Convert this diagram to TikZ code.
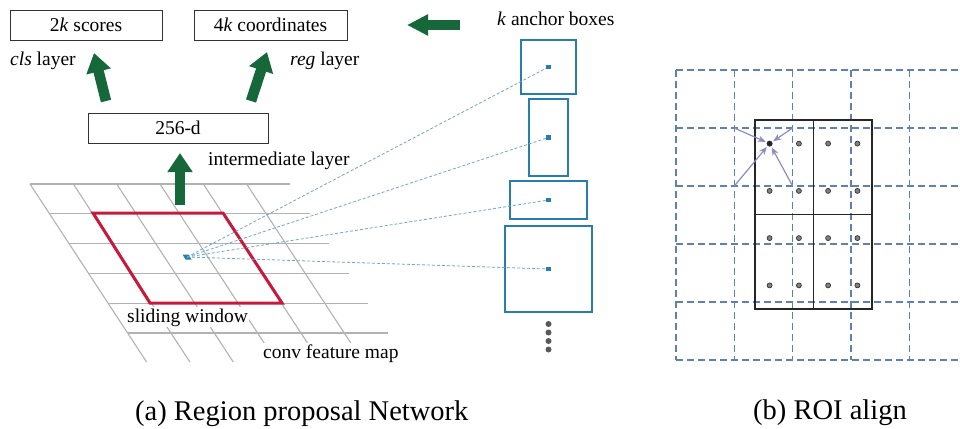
\documentclass[tikz,border=0pt]{standalone}
\usepackage{fontspec}
\setmainfont{Liberation Serif}
\usetikzlibrary{arrows.meta}
\definecolor{fgreen}{RGB}{22,104,58}
\definecolor{anchorblue}{RGB}{40,125,175}
\definecolor{dashblue}{RGB}{110,165,205}
\definecolor{gridgray}{RGB}{178,178,178}
\definecolor{swred}{RGB}{200,25,60}
\definecolor{roigrid}{RGB}{95,128,180}
\definecolor{roiarrow}{RGB}{140,140,195}
\begin{document}
\begin{tikzpicture}[x=1pt,y=-1pt,
  txt/.style={font=\fontsize{19.5}{23}\selectfont, inner sep=0pt, anchor=base west},
  captxt/.style={font=\fontsize{28.5}{34}\selectfont, inner sep=0pt, anchor=base west},
  layerbox/.style={draw=black!80, line width=0.9pt, inner sep=0pt, font=\fontsize{19.5}{23}\selectfont},
  bigarrow/.style={draw=fgreen, line width=10.5pt, -{Triangle[width=24pt,length=19pt]}},
  gridline/.style={draw=gridgray, line width=1.1pt},
  anchorbox/.style={draw=anchorblue, line width=1.3pt, inner sep=0pt},
  anchordot/.style={fill=anchorblue, inner sep=0pt, minimum size=4.5pt},
  dashline/.style={draw=dashblue, line width=0.8pt, dash pattern=on 3pt off 2pt},
  graydot/.style={circle, fill=black!65, inner sep=0pt, minimum size=6pt},
  roidash/.style={draw=roigrid, line width=1.3pt, dash pattern=on 7pt off 4pt},
  roibox/.style={draw=black!85, line width=1.3pt},
  sampledot/.style={circle, fill=black!50, draw=black!80, line width=0.7pt, inner sep=0pt, minimum size=5pt},
  roiarr/.style={draw=roiarrow, line width=1.2pt, -{Stealth[length=8pt,width=6.5pt]}, shorten >=1.5pt}
]
\useasboundingbox (0,0) rectangle (960,428);

% ---------- feature map grid ----------
\foreach \i in {0,...,5}
  \draw[gridline] ({30+19.6*\i},{184+29.8*\i}) -- ({290+19.6*\i},{184+29.8*\i});
\foreach \j in {0,...,5}
  \draw[gridline] ({30+43.33*\j},184) -- ({146.6+43.33*\j},362);

% sliding window
\draw[draw=swred, line width=3pt, line join=miter] (93,213) -- (223,213) -- (282,303) -- (150,303) -- cycle;

% centre point
\coordinate (ctr) at (187,257);
\fill[anchorblue] (182.5,254.5) -- (188.5,254.5) -- (191.5,259.5) -- (185.5,259.5) -- cycle;

% labels on the map
\node[txt, fill=white, inner sep=1pt] (sw) at (126,322) {sliding window};
\node[txt, fill=white, inner sep=1pt] (cfm) at (262,358) {conv feature map};

% ---------- layers ----------
\node[layerbox, minimum width=152pt, minimum height=30pt] (scores) at (86,25) {2\textit{k} scores};
\node[layerbox, minimum width=153pt, minimum height=30pt] (coords) at (270.5,25) {4\textit{k} coordinates};
\node[layerbox, minimum width=180pt, minimum height=30pt] (inter) at (178,128) {256-d};

\node[txt] (cls) at (10,65) {\textit{cls} layer};
\node[txt] (reg) at (290,65) {\textit{reg} layer};
\node[txt] (interlbl) at (208,165) {intermediate layer};
\node[txt] (anchlbl) at (497,26) {\textit{k} anchor boxes};

% green arrows
\coordinate (a1s) at (106,101);
\coordinate (a1e) at (94,53);
\coordinate (a2s) at (251,101);
\coordinate (a2e) at (267,52);
\coordinate (a3s) at (180,205);
\coordinate (a3e) at (180,153);
\coordinate (a4s) at (460,25);
\coordinate (a4e) at (407,25);
\draw[bigarrow] (a1s) -- (a1e);
\draw[bigarrow] (a2s) -- (a2e);
\draw[bigarrow] (a3s) -- (a3e);
\draw[bigarrow, -{Triangle[width=20pt,length=21pt]}] (a4s) -- (a4e);

% ---------- anchor boxes ----------
\node[anchorbox, minimum width=55pt, minimum height=54pt] (b1) at (548.5,67) {};
\node[anchorbox, minimum width=39pt, minimum height=77pt] (b2) at (548.5,137.5) {};
\node[anchorbox, minimum width=77pt, minimum height=38pt] (b3) at (548.5,200) {};
\node[anchorbox, minimum width=87pt, minimum height=86pt] (b4) at (548.5,269) {};
\node[anchordot] (d1) at (548.5,67) {};
\node[anchordot] (d2) at (548.5,137.5) {};
\node[anchordot] (d3) at (548.5,200) {};
\node[anchordot] (d4) at (548.5,269) {};
\foreach \d in {d1,d2,d3,d4}
  \draw[dashline] (ctr) -- (\d);

\node[graydot] (g1) at (548.5,324) {};
\node[graydot] (g2) at (548.5,332.5) {};
\node[graydot] (g3) at (548.5,341) {};
\node[graydot] (g4) at (548.5,349.5) {};

% ---------- ROI align ----------
\foreach \k in {0,...,4}
  \draw[roidash] ({676+58.3*\k},70) -- ({676+58.3*\k},360);
\foreach \k in {0,...,5}
  \draw[roidash] (676,{70+58*\k}) -- (962,{70+58*\k});

\draw[roibox] (755,120) rectangle (872,309);
\draw[roibox] (813.5,120) -- (813.5,309);
\draw[roibox] (755,214.5) -- (872,214.5);

\foreach \xx [count=\ci] in {769.6,798.9,828.1,857.4}
  \foreach \yy [count=\ri] in {143.6,190.9,238.1,285.4}
    \node[sampledot] (s\ci\ri) at (\xx,\yy) {};

\coordinate (p1) at (734.3,128);
\coordinate (p2) at (792.6,128);
\coordinate (p3) at (734.3,186);
\coordinate (p4) at (792.6,186);
\foreach \p in {p1,p2,p3,p4}
  \draw[roiarr] (\p) -- (s11);
\node[sampledot, fill=black!85] at (s11) {};

% ---------- captions ----------
\node[captxt] (capa) at (135,420) {(a) Region proposal Network};
\node[captxt] (capb) at (753,419) {(b) ROI align};
\end{tikzpicture}
\end{document}
